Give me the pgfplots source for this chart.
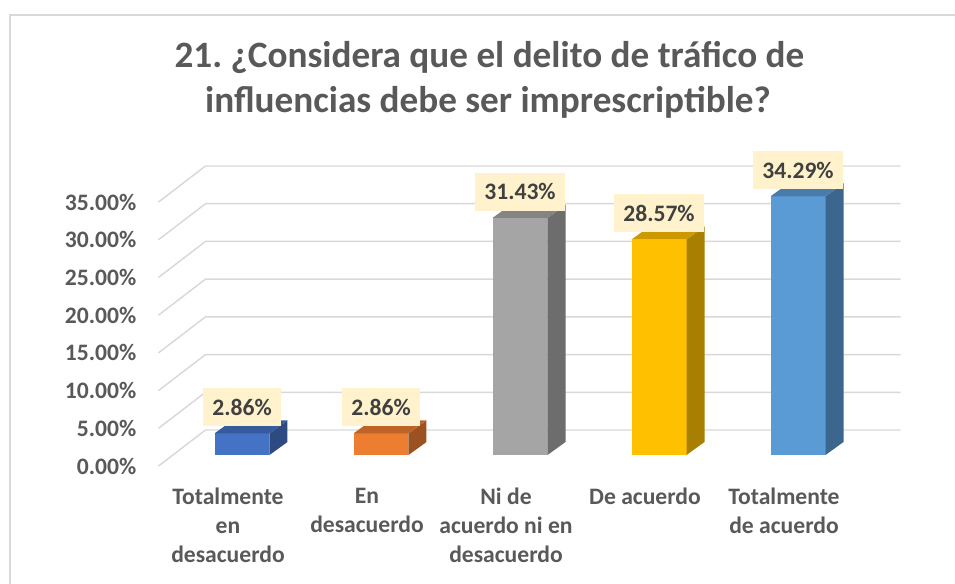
\documentclass[border=0pt]{standalone}
\usepackage{fontspec}
\setmainfont{Carlito}
\usepackage{pgfplots}
\pgfplotsset{compat=1.18}

\definecolor{gridc}{HTML}{D9D9D9}
\definecolor{txt}{HTML}{595959}
\definecolor{lbltxt}{HTML}{404040}
\definecolor{lblbox}{HTML}{FFF2CC}
\definecolor{c1}{HTML}{4472C4}
\definecolor{c2}{HTML}{ED7D31}
\definecolor{c3}{HTML}{A5A5A5}
\definecolor{c4}{HTML}{FFC000}
\definecolor{c5}{HTML}{5B9BD5}

\newcommand\lblfont{\fontsize{17.7pt}{21.75pt}\selectfont\bfseries}
\newcommand\titlefont{\fontsize{27.9pt}{34pt}\selectfont\bfseries}

% one 3-D bar: #1 category index, #2 value (%), #3 colour
% front face sits a bit behind the front plane, depth goes up and right
\newcommand\cubebar[3]{%
  \pgfmathsetmacro\xa{#1-0.0971}%
  \pgfmathsetmacro\xb{#1+0.2985}%
  \pgfmathsetmacro\xc{#1+0.4280}%
  \pgfmathsetmacro\xd{#1+0.0324}%
  \pgfmathsetmacro\xm{#1+0.1007}%
  \pgfmathsetmacro\yf{#2+1.458}%
  \pgfmathsetmacro\yt{#2+3.1815}%
  \edef\doit{%
    \noexpand\addplot[fill=#3, draw=none] coordinates
      {(\xa,1.458) (\xb,1.458) (\xb,\yf) (\xa,\yf)} -- cycle;
    \noexpand\addplot[fill=#3!66!black, draw=none] coordinates
      {(\xb,1.458) (\xc,3.1815) (\xc,\yt) (\xb,\yf)} -- cycle;
    \noexpand\addplot[fill=#3!80!black, draw=none] coordinates
      {(\xa,\yf) (\xb,\yf) (\xc,\yt) (\xd,\yt)} -- cycle;
    \noexpand\node[fill=lblbox, text=lbltxt, font=\noexpand\lblfont,
      anchor=south, inner xsep=6.75pt, inner ysep=0pt, minimum height=28.5pt,
      yshift=5.25pt] at (axis cs:\xm,\yf) {#2\noexpand\%};
  }\doit
}

\begin{document}
\frenchspacing
\begin{tikzpicture}
\useasboundingbox (0,0) rectangle (716.25pt,437.25pt);
\fill[white] (0,0) rectangle (716.25pt,437.25pt);
\draw[gridc, line width=1.1pt] (7.5pt,-10pt) |- (730pt,426pt);

\node[anchor=base, text=txt, font=\titlefont] at (367.1pt,386.6pt)
  {21. ¿Considera que el delito de tráfico de};
\node[anchor=base, text=txt, font=\titlefont] at (366pt,352.5pt)
  {influencias debe ser imprescriptible?};

\begin{axis}[
  at={(118.875pt,87.75pt)}, anchor=south west,
  x=104.25pt, y=5.657pt,
  xmin=-0.5, xmax=4.5, ymin=0, ymax=35,
  clip=false,
  axis line style={draw=none},
  tick style={draw=none},
  major tick length=0pt,
  ytick={0,5,...,35},
  /pgf/number format/assume math mode=true,
  yticklabel={\pgfmathprintnumber[fixed,fixed zerofill,precision=2]{\tick}\%},
  yticklabel style={anchor=east, inner sep=0pt, xshift=-16.5pt,
                    text=txt, font=\lblfont},
  xtick={0,1,2,3,4},
  xticklabels={{Totalmente\\en\\desacuerdo},{En\\desacuerdo},
               {Ni de\\acuerdo ni en\\desacuerdo},{De acuerdo},
               {Totalmente\\de acuerdo}},
  xticklabel style={anchor=north, align=center, inner sep=0pt,
                    yshift=-16.5pt, text=txt, font=\lblfont},
]
% perspective grid: diagonal on the left wall, horizontal on the back wall
\pgfplotsinvokeforeach{0,5,...,35}{
  \draw[gridc, line width=1.1pt] (axis cs:-0.5,#1) -- ++(35.25pt,27pt)
    -- ([shift={(35.25pt,27pt)}]axis cs:4.5,#1);
}

\cubebar{0}{2.86}{c1}
\cubebar{1}{2.86}{c2}
\cubebar{2}{31.43}{c3}
\cubebar{3}{28.57}{c4}
\cubebar{4}{34.29}{c5}
\end{axis}
\end{tikzpicture}
\end{document}
